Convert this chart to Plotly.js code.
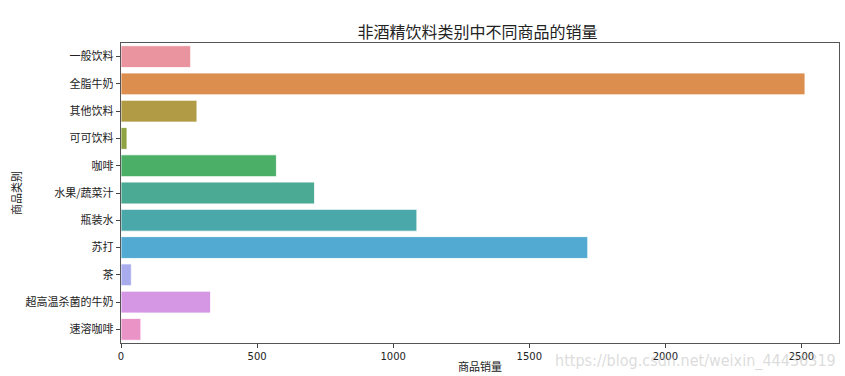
<!DOCTYPE html>
<html>
<head>
<meta charset="utf-8">
<script src="https://cdn.plot.ly/plotly-3.0.1.min.js"></script>
<style>html,body{margin:0;padding:0;background:#fff;}#chart{width:845px;height:376px;}</style>
</head>
<body>
<div id="chart"></div>
<script>
const categories = ["一般饮料","全脂牛奶","其他饮料","可可饮料","咖啡","水果/蔬菜汁","瓶装水","苏打","茶","超高温杀菌的牛奶","速溶咖啡"];
const sales = [256, 2513, 279, 22, 571, 711, 1087, 1715, 38, 329, 73];
const barColors = ["#e9949f","#dc8e4e","#b19b45","#8ea344","#4caf67","#4aaa93","#4ba8aa","#52aad2","#a8aced","#d596e4","#e993c7"];
const xTicks = [0, 500, 1000, 1500, 2000, 2500];

const font = "'Noto Sans CJK SC', 'DejaVu Sans', sans-serif";
const data = [{
  type: "bar",
  orientation: "h",
  x: sales,
  y: categories,
  marker: {color: barColors, line: {color: "rgba(255,255,255,0.8)", width: 1}},
  width: 0.8,
  hoverinfo: "x+y"
}];
const layout = {
  width: 845, height: 376,
  margin: {l: 121, r: 6, t: 43, b: 33},
  paper_bgcolor: "#fff", plot_bgcolor: "#fff",
  font: {family: font, color: "#222", size: 11},
  title: {text: "非酒精饮料类别中不同商品的销量", font: {family: font, size: 16, color: "#222"}, x: 0.565, xanchor: "center", y: 0.915, yanchor: "middle"},
  xaxis: {
    range: [0, 2638], tickvals: xTicks, ticktext: xTicks.map(String),
    ticks: "outside", ticklen: 4, tickcolor: "#444", showgrid: false, zeroline: false,
    showline: true, linecolor: "#555", linewidth: 1.2, mirror: true,
    tickfont: {size: 10, color: "#222", family: "'DejaVu Sans', sans-serif"},
    title: {text: "商品销量", font: {size: 11, color: "#222", family: font}, standoff: 2}
  },
  yaxis: {
    type: "category", range: [10.5, -0.5], categoryorder: "array", categoryarray: categories,
    ticks: "outside", ticklen: 4, tickcolor: "#444", showgrid: false, zeroline: false,
    showline: true, linecolor: "#555", linewidth: 1.2, mirror: true,
    tickfont: {size: 11, color: "#222", family: font},
    title: {text: "商品类别", font: {size: 11, color: "#222", family: font}, standoff: 1}
  },
  showlegend: false,
  annotations: [{
    text: "https://blog.csdn.net/weixin_44436319", xref: "paper", yref: "paper",
    x: 0.999, y: -0.02, xanchor: "right", yanchor: "top", showarrow: false,
    font: {size: 16, color: "rgba(190,190,190,0.55)", family: "'Liberation Sans Narrow', 'DejaVu Sans Condensed', sans-serif"}
  }]
};
Plotly.newPlot("chart", data, layout, {displayModeBar: false, staticPlot: true});
</script>
</body>
</html>
